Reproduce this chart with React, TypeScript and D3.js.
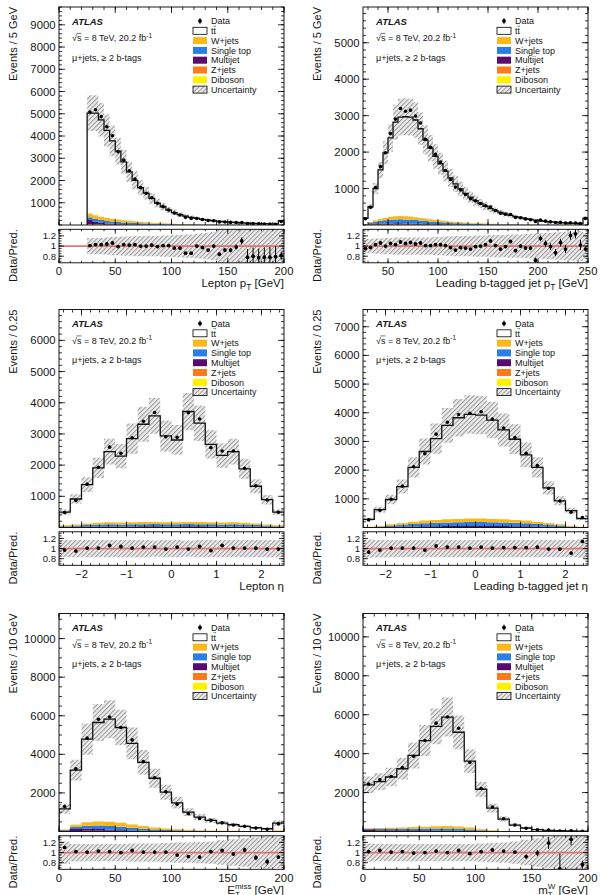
import React from "react";
import * as d3 from "d3";

// ---------- lepton pT, 5 GeV bins from 25 GeV (last bin includes overflow) ----------
const LEPPT_LO = 25;
const LEPPT_BIN = 5;
const LEPPT_PRED = [5030, 5030, 4730, 4250, 3780, 3320, 2840, 2390, 2010, 1680, 1430, 1200, 985, 820, 670, 560, 470, 400, 345, 295, 255, 220, 190, 165, 145, 127, 112, 98, 87, 77, 68, 60, 53, 47, 190];
const LEPPT_DATA = [5080, 5180, 4870, 4420, 4010, 3290, 2925, 2440, 2070, 1680, 1430, 1224, 975, 828, 677, 538, 451, 344, 297, 295, 247, 202, 190, 139, 133, 117, 110, 108, 68, 62, 52, 47, 41, 37, 154];
const LEPPT_RATIO = [1.01, 1.03, 1.03, 1.04, 1.06, 0.99, 1.03, 1.02, 1.03, 1.0, 1.0, 1.02, 0.99, 1.01, 1.01, 0.96, 0.96, 0.86, 0.86, 1.0, 0.97, 0.92, 1.0, 0.84, 0.92, 0.92, 0.98, 1.1, 0.78, 0.8, 0.77, 0.78, 0.78, 0.79, 0.81];
const LEPPT_RATIO_ERR = [0.005, 0.005, 0.005, 0.005, 0.006, 0.006, 0.007, 0.007, 0.008, 0.009, 0.01, 0.011, 0.012, 0.013, 0.015, 0.017, 0.018, 0.02, 0.022, 0.024, 0.027, 0.03, 0.032, 0.036, 0.04, 0.045, 0.05, 0.07, 0.16, 0.17, 0.18, 0.19, 0.2, 0.21, 0.08];
const LEPPT_UNC = [0.16, 0.16, 0.16, 0.17, 0.18, 0.18, 0.19, 0.19, 0.2, 0.2, 0.2, 0.2, 0.2, 0.21, 0.21, 0.22, 0.22, 0.23, 0.23, 0.24, 0.25, 0.26, 0.28, 0.32, 0.33, 0.33, 0.34, 0.34, 0.35, 0.35, 0.36, 0.36, 0.37, 0.37, 0.3];
const LEPPT_MJ = [180, 110, 70, 45, 30, 22, 16, 12, 9, 7, 5, 4, 3, 3, 2, 2, 1, 1, 1, 1, 1, 1, 0, 0, 0, 0, 0, 0, 0, 0, 0, 0, 0, 0, 2];
const LEPPT_STOP = [130, 130, 125, 115, 105, 95, 85, 75, 66, 57, 49, 42, 36, 31, 27, 23, 20, 17, 15, 13, 11, 10, 9, 8, 7, 6, 5, 5, 4, 4, 3, 3, 3, 2, 12];
const LEPPT_WJETS = [170, 160, 150, 140, 128, 115, 102, 90, 79, 69, 60, 52, 45, 39, 34, 29, 25, 22, 19, 16, 14, 12, 11, 9, 8, 7, 6, 6, 5, 4, 4, 4, 3, 3, 14];
const LEPPT_ZJETS = [30, 25, 21, 18, 15, 13, 11, 9, 8, 7, 6, 5, 4, 4, 3, 3, 2, 2, 2, 2, 1, 1, 1, 1, 1, 1, 1, 1, 1, 1, 1, 1, 1, 1, 3];
const LEPPT_VV = [10, 9, 8, 7, 6, 6, 5, 5, 4, 4, 3, 3, 3, 2, 2, 2, 2, 2, 1, 1, 1, 1, 1, 1, 1, 1, 1, 1, 1, 1, 1, 1, 1, 1, 2];

// ---------- leading b-tagged jet pT, 5 GeV bins from 25 GeV ----------
const BJPT_LO = 25;
const BJPT_BIN = 5;
const BJPT_PRED = [180, 500, 1000, 1510, 1980, 2390, 2820, 2960, 2970, 2960, 2880, 2640, 2330, 2110, 1880, 1680, 1480, 1290, 1130, 990, 870, 765, 670, 590, 515, 450, 395, 345, 300, 262, 230, 200, 175, 152, 133, 116, 101, 88, 77, 67, 58, 51, 44, 38, 190];
const BJPT_DATA = [171, 485, 1030, 1600, 1980, 2510, 2905, 3197, 3119, 3150, 2990, 2800, 2353, 2131, 1936, 1730, 1495, 1251, 1040, 960, 835, 719, 663, 590, 530, 495, 399, 324, 297, 286, 209, 200, 168, 146, 96, 133, 106, 87, 67, 72, 55, 62, 55, 39, 179];
const BJPT_RATIO = [0.95, 0.97, 1.03, 1.06, 1.0, 1.05, 1.03, 1.08, 1.05, 1.07, 1.04, 1.06, 1.01, 1.01, 1.03, 1.03, 1.01, 0.97, 0.92, 0.97, 0.96, 0.94, 0.99, 1.0, 1.03, 1.1, 1.01, 0.94, 0.99, 1.09, 0.91, 1.0, 0.96, 0.96, 0.72, 1.15, 1.05, 0.99, 0.87, 1.07, 0.94, 1.21, 1.24, 1.02, 0.94];
const BJPT_RATIO_ERR = [0.02, 0.01, 0.008, 0.007, 0.006, 0.006, 0.005, 0.005, 0.005, 0.005, 0.006, 0.006, 0.006, 0.007, 0.007, 0.008, 0.009, 0.01, 0.011, 0.012, 0.013, 0.014, 0.016, 0.017, 0.02, 0.021, 0.024, 0.026, 0.028, 0.03, 0.034, 0.036, 0.04, 0.044, 0.05, 0.055, 0.06, 0.065, 0.07, 0.075, 0.08, 0.085, 0.09, 0.1, 0.04];
const BJPT_UNC = [0.14, 0.14, 0.15, 0.15, 0.16, 0.16, 0.17, 0.17, 0.17, 0.17, 0.17, 0.17, 0.17, 0.17, 0.18, 0.18, 0.19, 0.19, 0.2, 0.2, 0.2, 0.2, 0.21, 0.21, 0.21, 0.22, 0.22, 0.22, 0.22, 0.23, 0.23, 0.23, 0.24, 0.24, 0.25, 0.25, 0.26, 0.26, 0.27, 0.27, 0.28, 0.28, 0.29, 0.3, 0.25];
const BJPT_MJ = [6, 14, 20, 24, 26, 27, 27, 26, 24, 22, 20, 17, 15, 13, 11, 10, 8, 7, 6, 5, 4, 4, 3, 3, 2, 2, 2, 1, 1, 1, 1, 1, 1, 1, 1, 0, 0, 0, 0, 0, 0, 0, 0, 0, 1];
const BJPT_STOP = [12, 35, 58, 76, 90, 101, 108, 111, 109, 105, 98, 89, 80, 71, 64, 57, 50, 44, 39, 34, 30, 26, 23, 20, 18, 16, 14, 12, 11, 10, 8, 7, 6, 5, 5, 5, 4, 4, 3, 3, 2, 2, 2, 2, 7];
const BJPT_WJETS = [9, 24, 40, 56, 68, 80, 86, 89, 88, 85, 81, 74, 67, 60, 55, 49, 44, 39, 34, 30, 27, 24, 21, 19, 17, 14, 13, 12, 10, 8, 7, 6, 6, 5, 4, 4, 4, 3, 3, 3, 3, 3, 2, 2, 6];
const BJPT_ZJETS = [2, 4, 8, 9, 10, 11, 12, 12, 12, 12, 11, 10, 9, 8, 7, 6, 6, 5, 4, 4, 3, 3, 3, 2, 2, 2, 1, 1, 1, 1, 1, 1, 1, 1, 1, 1, 1, 1, 1, 0, 0, 0, 0, 0, 1];
const BJPT_VV = [1, 3, 4, 5, 6, 6, 7, 7, 7, 6, 5, 5, 4, 3, 3, 3, 2, 2, 2, 2, 2, 1, 1, 1, 1, 1, 1, 1, 1, 1, 1, 0, 0, 0, 0, 0, 0, 0, 0, 0, 0, 0, 0, 0, 0];

// ---------- lepton eta, 0.25 bins from -2.5 ----------
const LEPETA_LO = -2.5;
const LEPETA_BIN = 0.25;
const LEPETA_PRED = [495, 914, 1376, 1914, 2430, 2290, 2850, 3310, 3580, 2935, 2806, 3720, 3344, 2667, 2312, 2430, 1880, 1323, 892, 495];
const LEPETA_DATA = [480, 868, 1390, 1933, 2576, 2382, 2879, 3409, 3687, 2906, 2890, 3683, 3478, 2560, 2451, 2454, 1899, 1336, 883, 490];
const LEPETA_RATIO = [0.97, 0.95, 1.01, 1.01, 1.06, 1.04, 1.01, 1.03, 1.03, 0.99, 1.03, 0.99, 1.04, 0.96, 1.06, 1.01, 1.01, 1.01, 0.99, 0.99];
const LEPETA_RATIO_ERR = [0.012, 0.01, 0.009, 0.008, 0.007, 0.007, 0.007, 0.006, 0.006, 0.007, 0.007, 0.006, 0.006, 0.007, 0.007, 0.007, 0.008, 0.009, 0.01, 0.012];
const LEPETA_UNC = [0.17, 0.17, 0.17, 0.17, 0.17, 0.17, 0.17, 0.17, 0.16, 0.17, 0.17, 0.16, 0.17, 0.17, 0.17, 0.17, 0.17, 0.17, 0.17, 0.17];
const LEPETA_MJ = [10, 15, 20, 22, 25, 24, 25, 26, 27, 25, 25, 27, 26, 25, 24, 25, 22, 20, 15, 10];
const LEPETA_STOP = [28, 40, 52, 60, 66, 64, 66, 70, 72, 66, 66, 72, 70, 66, 64, 66, 60, 52, 40, 28];
const LEPETA_WJETS = [26, 38, 49, 57, 63, 61, 63, 67, 68, 63, 63, 68, 67, 63, 61, 63, 57, 49, 38, 26];
const LEPETA_ZJETS = [4, 5, 6, 7, 7, 7, 7, 8, 8, 7, 7, 8, 8, 7, 7, 7, 7, 6, 5, 4];
const LEPETA_VV = [2, 2, 3, 4, 4, 4, 4, 4, 5, 4, 4, 5, 4, 4, 4, 4, 4, 3, 2, 2];

// ---------- leading b-tagged jet eta, 0.25 bins from -2.5 ----------
const BJETA_LO = -2.5;
const BJETA_BIN = 0.25;
const BJETA_PRED = [285, 620, 977, 1427, 2096, 2650, 3100, 3562, 3827, 3942, 3919, 3746, 3400, 3077, 2535, 2096, 1381, 931, 585, 308];
const BJETA_DATA = [265, 601, 987, 1441, 2117, 2571, 3255, 3669, 3942, 3981, 4037, 3783, 3468, 3139, 2586, 2159, 1367, 922, 532, 351];
const BJETA_RATIO = [0.93, 0.97, 1.01, 1.01, 1.01, 0.97, 1.05, 1.03, 1.03, 1.01, 1.03, 1.01, 1.02, 1.02, 1.02, 1.03, 0.99, 0.99, 0.91, 1.14];
const BJETA_RATIO_ERR = [0.03, 0.015, 0.01, 0.008, 0.007, 0.006, 0.006, 0.005, 0.005, 0.005, 0.005, 0.005, 0.005, 0.006, 0.006, 0.007, 0.008, 0.01, 0.015, 0.03];
const BJETA_UNC = [0.18, 0.17, 0.17, 0.17, 0.17, 0.17, 0.17, 0.17, 0.17, 0.17, 0.17, 0.17, 0.17, 0.17, 0.17, 0.17, 0.17, 0.17, 0.17, 0.18];
const BJETA_MJ = [3, 6, 11, 16, 20, 24, 26, 28, 30, 31, 31, 30, 28, 26, 24, 20, 16, 11, 6, 3];
const BJETA_STOP = [11, 27, 50, 72, 90, 108, 119, 128, 135, 140, 140, 135, 128, 119, 108, 90, 72, 50, 27, 11];
const BJETA_WJETS = [9, 23, 42, 61, 76, 91, 101, 108, 114, 118, 118, 114, 108, 101, 91, 76, 61, 42, 23, 9];
const BJETA_ZJETS = [1, 3, 5, 7, 9, 11, 12, 13, 13, 13, 13, 13, 13, 12, 11, 9, 7, 5, 3, 1];
const BJETA_VV = [1, 1, 2, 4, 5, 6, 7, 8, 8, 8, 8, 8, 8, 7, 6, 5, 4, 2, 1, 1];

// ---------- missing ET, 10 GeV bins from 0 ----------
const MET_LO = 0;
const MET_BIN = 10;
const MET_PRED = [1175, 3184, 4790, 5650, 5820, 5390, 4565, 3585, 2760, 2036, 1486, 1004, 746, 573, 435, 349, 263, 194, 143, 435];
const MET_DATA = [1293, 3248, 4838, 5820, 5936, 5390, 4748, 3621, 2788, 2056, 1412, 924, 679, 584, 452, 339, 276, 175, 117, 396];
const MET_RATIO = [1.1, 1.02, 1.01, 1.03, 1.02, 1.0, 1.04, 1.01, 1.01, 1.01, 0.95, 0.92, 0.91, 1.02, 1.04, 0.97, 1.05, 0.9, 0.82, 0.91];
const MET_RATIO_ERR = [0.01, 0.006, 0.005, 0.005, 0.005, 0.005, 0.005, 0.006, 0.007, 0.008, 0.01, 0.012, 0.015, 0.018, 0.03, 0.035, 0.045, 0.05, 0.06, 0.035];
const MET_UNC = [0.22, 0.17, 0.17, 0.17, 0.17, 0.17, 0.18, 0.18, 0.18, 0.19, 0.2, 0.2, 0.21, 0.22, 0.24, 0.26, 0.28, 0.3, 0.32, 0.3];
const MET_MJ = [45, 110, 110, 90, 60, 35, 20, 12, 7, 4, 3, 2, 1, 1, 1, 1, 0, 0, 0, 1];
const MET_STOP = [25, 100, 150, 170, 175, 165, 140, 112, 86, 67, 51, 39, 31, 24, 20, 16, 13, 10, 8, 22];
const MET_WJETS = [22, 115, 180, 215, 220, 210, 170, 135, 102, 78, 58, 43, 33, 26, 21, 16, 13, 10, 9, 23];
const MET_ZJETS = [6, 18, 25, 27, 27, 25, 19, 14, 10, 7, 5, 4, 3, 2, 2, 1, 1, 1, 1, 3];
const MET_VV = [2, 7, 15, 18, 18, 15, 11, 7, 5, 4, 3, 2, 2, 2, 1, 1, 1, 1, 0, 1];

// ---------- transverse W mass, 10 GeV bins from 0 ----------
const MTW_LO = 0;
const MTW_BIN = 10;
const MTW_PRED = [2391, 2562, 2800, 3225, 3906, 4672, 5404, 5880, 5098, 3617, 2170, 1200, 638, 332, 179, 94, 60, 43, 26, 20];
const MTW_DATA = [2439, 2664, 2828, 3290, 3867, 4672, 5566, 5880, 5302, 3545, 2213, 1260, 657, 335, 165, 93, 71, 29, 33, 15];
const MTW_RATIO = [1.02, 1.04, 1.01, 1.02, 0.99, 1.0, 1.03, 1.0, 1.04, 0.98, 1.02, 1.05, 1.03, 1.01, 0.92, 0.99, 1.19, 0.68, 1.26, 0.76];
const MTW_RATIO_ERR = [0.007, 0.007, 0.006, 0.006, 0.005, 0.005, 0.005, 0.005, 0.005, 0.006, 0.007, 0.01, 0.013, 0.02, 0.04, 0.06, 0.12, 0.3, 0.12, 0.08];
const MTW_UNC = [0.18, 0.17, 0.17, 0.17, 0.17, 0.17, 0.17, 0.17, 0.17, 0.17, 0.18, 0.19, 0.2, 0.22, 0.25, 0.28, 0.3, 0.32, 0.34, 0.35];
const MTW_MJ = [60, 55, 50, 45, 40, 35, 30, 25, 20, 15, 8, 4, 2, 1, 0, 0, 0, 0, 0, 0];
const MTW_STOP = [55, 60, 65, 72, 85, 95, 105, 110, 100, 77, 46, 23, 12, 6, 3, 2, 1, 1, 1, 0];
const MTW_WJETS = [42, 50, 58, 65, 83, 97, 112, 122, 118, 95, 58, 29, 14, 7, 4, 3, 2, 1, 1, 1];
const MTW_ZJETS = [9, 10, 11, 12, 14, 15, 15, 15, 14, 9, 6, 3, 1, 1, 1, 0, 0, 0, 0, 0];
const MTW_VV = [4, 5, 6, 6, 8, 8, 8, 8, 8, 4, 2, 1, 1, 0, 0, 0, 0, 0, 0, 0];

// axis tick labels
const PT_TICKS = [0, 50, 100, 150, 200];
const BJPT_TICKS = [50, 100, 150, 200, 250];
const ETA_TICKS = [-2, -1, 0, 1, 2];
const RATIO_TICKS = [0.8, 1, 1.2];

// ---------- layout / style ----------
const W = 606;
const H = 895;
const FONT = "'Liberation Sans', Arial, Helvetica, sans-serif";
const INK = "#151515";
const COL_X = [59, 363];
const ROW_Y = [7, 309.5, 613.5];
const FRAME_W = 225;
const MAIN_H = 218;
const PAD_GAP = 4.3;
const RATIO_H = 33.5;
const R_DOMAIN: [number, number] = [0.67, 1.33];

const COLORS: Record<string, string> = {
  wjets: "#f9b81b",
  stop: "#2a7fe6",
  multijet: "#5a0c6c",
  zjets: "#fc7b1c",
  diboson: "#fff000",
};
// bottom of the stack first
const STACK_ORDER = ["diboson", "zjets", "multijet", "stop", "wjets"];

type Dist = {
  lo: number; binW: number;
  pred: number[]; data: number[]; ratio: number[]; ratioErr: number[]; unc: number[];
  multijet: number[]; stop: number[]; wjets: number[]; zjets: number[]; diboson: number[];
  xDomain: [number, number]; xLabels: number[]; xMinor: number;
  yMax: number; yStep: number; yMinor: number;
  yTitle: string; xTitle: string;
};

const DISTS: Dist[] = [
  { lo: LEPPT_LO, binW: LEPPT_BIN, pred: LEPPT_PRED, data: LEPPT_DATA, ratio: LEPPT_RATIO, ratioErr: LEPPT_RATIO_ERR, unc: LEPPT_UNC,
    multijet: LEPPT_MJ, stop: LEPPT_STOP, wjets: LEPPT_WJETS, zjets: LEPPT_ZJETS, diboson: LEPPT_VV,
    xDomain: [0, 200], xLabels: PT_TICKS, xMinor: 10, yMax: 9800, yStep: 1000, yMinor: 200, yTitle: "Events / 5 GeV", xTitle: "lepPt" },
  { lo: BJPT_LO, binW: BJPT_BIN, pred: BJPT_PRED, data: BJPT_DATA, ratio: BJPT_RATIO, ratioErr: BJPT_RATIO_ERR, unc: BJPT_UNC,
    multijet: BJPT_MJ, stop: BJPT_STOP, wjets: BJPT_WJETS, zjets: BJPT_ZJETS, diboson: BJPT_VV,
    xDomain: [25, 250], xLabels: BJPT_TICKS, xMinor: 10, yMax: 5980, yStep: 1000, yMinor: 200, yTitle: "Events / 5 GeV", xTitle: "bjPt" },
  { lo: LEPETA_LO, binW: LEPETA_BIN, pred: LEPETA_PRED, data: LEPETA_DATA, ratio: LEPETA_RATIO, ratioErr: LEPETA_RATIO_ERR, unc: LEPETA_UNC,
    multijet: LEPETA_MJ, stop: LEPETA_STOP, wjets: LEPETA_WJETS, zjets: LEPETA_ZJETS, diboson: LEPETA_VV,
    xDomain: [-2.5, 2.5], xLabels: ETA_TICKS, xMinor: 0.2, yMax: 6990, yStep: 1000, yMinor: 200, yTitle: "Events / 0.25", xTitle: "lepEta" },
  { lo: BJETA_LO, binW: BJETA_BIN, pred: BJETA_PRED, data: BJETA_DATA, ratio: BJETA_RATIO, ratioErr: BJETA_RATIO_ERR, unc: BJETA_UNC,
    multijet: BJETA_MJ, stop: BJETA_STOP, wjets: BJETA_WJETS, zjets: BJETA_ZJETS, diboson: BJETA_VV,
    xDomain: [-2.5, 2.5], xLabels: ETA_TICKS, xMinor: 0.2, yMax: 7600, yStep: 1000, yMinor: 200, yTitle: "Events / 0.25", xTitle: "bjEta" },
  { lo: MET_LO, binW: MET_BIN, pred: MET_PRED, data: MET_DATA, ratio: MET_RATIO, ratioErr: MET_RATIO_ERR, unc: MET_UNC,
    multijet: MET_MJ, stop: MET_STOP, wjets: MET_WJETS, zjets: MET_ZJETS, diboson: MET_VV,
    xDomain: [0, 200], xLabels: PT_TICKS, xMinor: 10, yMax: 11300, yStep: 2000, yMinor: 500, yTitle: "Events / 10 GeV", xTitle: "met" },
  { lo: MTW_LO, binW: MTW_BIN, pred: MTW_PRED, data: MTW_DATA, ratio: MTW_RATIO, ratioErr: MTW_RATIO_ERR, unc: MTW_UNC,
    multijet: MTW_MJ, stop: MTW_STOP, wjets: MTW_WJETS, zjets: MTW_ZJETS, diboson: MTW_VV,
    xDomain: [0, 200], xLabels: PT_TICKS, xMinor: 10, yMax: 11200, yStep: 2000, yMinor: 500, yTitle: "Events / 10 GeV", xTitle: "mtw" },
];

const fmt = (v: number) => `${v}`.replace("-", "\u2212");
const minorVals = (lo: number, hi: number, step: number) =>
  d3.range(Math.ceil(lo / step - 1e-9), Math.floor(hi / step + 1e-9) + 1).map(k => k * step);

function XTitle({ kind, x, y }: { kind: string; x: number; y: number }) {
  const base = { x, y, textAnchor: "end" as const, fontSize: 11.5, fill: INK };
  switch (kind) {
    case "lepPt":
      return <text {...base}>Lepton p<tspan dy={3} fontSize={8.5}>T</tspan><tspan dy={-3}>{" [GeV]"}</tspan></text>;
    case "bjPt":
      return <text {...base}>Leading b-tagged jet p<tspan dy={3} fontSize={8.5}>T</tspan><tspan dy={-3}>{" [GeV]"}</tspan></text>;
    case "lepEta":
      return <text {...base}>Lepton η</text>;
    case "bjEta":
      return <text {...base}>Leading b-tagged jet η</text>;
    case "met":
      return (
        <text {...base}>E<tspan dy={-4.5} fontSize={8}>miss</tspan><tspan dx={-16.4} dy={7.5} fontSize={8}>T</tspan>
          <tspan dx={11.5} dy={-3}>{" [GeV]"}</tspan></text>
      );
    default:
      return (
        <text {...base}>m<tspan dy={-4.5} fontSize={8}>W</tspan><tspan dx={-7.6} dy={7.5} fontSize={8}>T</tspan>
          <tspan dx={2.7} dy={-3}>{" [GeV]"}</tspan></text>
      );
  }
}

function Legend({ x0, y0 }: { x0: number; y0: number }) {
  const bx = x0 + 134;
  const tx = x0 + 152;
  const rowY = (i: number) => y0 + 14 + i * 9.8;
  const boxes = [
    { fill: COLORS.wjets, label: "W+jets" },
    { fill: COLORS.stop, label: "Single top" },
    { fill: COLORS.multijet, label: "Multijet" },
    { fill: COLORS.zjets, label: "Z+jets" },
    { fill: COLORS.diboson, label: "Diboson" },
  ];
  return (
    <g fontSize={9} fill={INK}>
      <circle cx={bx + 7} cy={rowY(0)} r={1.9} fill="#000" />
      <line x1={bx + 7} x2={bx + 7} y1={rowY(0) - 3} y2={rowY(0) + 3} stroke="#000" strokeWidth={0.8} />
      <text x={tx} y={rowY(0) + 3.2}>Data</text>
      <rect x={bx} y={rowY(1) - 3.5} width={14} height={7} fill="#fff" stroke="#000" strokeWidth={0.8} />
      <text x={tx} y={rowY(1) + 3.2}>tt</text>
      {/* bar over the second t */}
      <line x1={tx + 2.6} x2={tx + 5.2} y1={rowY(1) - 4.6} y2={rowY(1) - 4.6} stroke={INK} strokeWidth={0.6} />
      {boxes.map((b, i) => (
        <g key={b.label}>
          <rect x={bx} y={rowY(i + 2) - 3.5} width={14} height={7} fill={b.fill} />
          <text x={tx} y={rowY(i + 2) + 3.2}>{b.label}</text>
        </g>
      ))}
      <rect x={bx} y={rowY(7) - 3.5} width={14} height={7} fill="url(#unc-hatch)" stroke="#000" strokeWidth={0.8} />
      <text x={tx} y={rowY(7) + 3.2}>Uncertainty</text>
    </g>
  );
}

function Labels({ x0, y0 }: { x0: number; y0: number }) {
  const lx = x0 + 13;
  const by = y0 + 34;
  return (
    <g fill={INK}>
      <text x={lx} y={y0 + 17.5} fontSize={9.5} fontWeight="bold" fontStyle="italic">ATLAS</text>
      <text x={lx} y={by} fontSize={9}>
        {"√s = 8 TeV, 20.2 fb"}
        <tspan dy={-3.5} fontSize={6.5}>-1</tspan>
      </text>
      {/* root bar over s */}
      <line x1={lx + 4.6} x2={lx + 9.4} y1={by - 7.6} y2={by - 7.6} stroke={INK} strokeWidth={0.6} />
      <text x={lx} y={y0 + 53.5} fontSize={9}>μ+jets, ≥ 2 b-tags</text>
    </g>
  );
}

function Panel({ d, x0, y0, id }: { d: Dist; x0: number; y0: number; id: number }) {
  const x = d3.scaleLinear().domain(d.xDomain).range([x0, x0 + FRAME_W]);
  const y = d3.scaleLinear().domain([0, d.yMax]).range([y0 + MAIN_H, y0]);
  const rTop = y0 + MAIN_H + PAD_GAP;
  const rBot = rTop + RATIO_H;
  const r = d3.scaleLinear().domain(R_DOMAIN).range([rBot, rTop]);
  const xR = x0 + FRAME_W;

  const n = d.pred.length;
  const edge = (i: number) => d.lo + i * d.binW;
  const mid = (i: number) => d.lo + (i + 0.5) * d.binW;
  const ext = (a: [number, number][]) => [...a, a[a.length - 1]];

  const stepArea = (s: d3.ScaleLinear<number, number>) =>
    d3.area<[number, number]>()
      .curve(d3.curveStepAfter)
      .x((_, i) => x(edge(i)))
      .y0(p => s(p[0]))
      .y1(p => s(p[1]));
  const mainArea = stepArea(y);
  const ratioArea = stepArea(r);

  const rows = d3.range(n).map(i => ({
    diboson: d.diboson[i], zjets: d.zjets[i], multijet: d.multijet[i], stop: d.stop[i], wjets: d.wjets[i],
  }));
  const series = d3.stack<any>().keys(STACK_ORDER)(rows);

  const ttPath = mainArea(ext(d.pred.map(v => [0, v] as [number, number]))) || "";
  const uncPath = mainArea(ext(d.pred.map((v, i) => [v * (1 - d.unc[i]), v * (1 + d.unc[i])] as [number, number]))) || "";
  const ratioBand = ratioArea(ext(d.unc.map(u => [1 - u, 1 + u] as [number, number]))) || "";

  const outlinePts: [number, number][] = [[d.lo, 0], ...d.pred.map((v, i) => [edge(i), v] as [number, number]), [edge(n), d.pred[n - 1]]];
  const outline = d3.line<[number, number]>().curve(d3.curveStepAfter).x(p => x(p[0])).y(p => y(p[1]))(outlinePts) || "";

  const yMajor = d3.range(d.yStep, d.yMax, d.yStep);
  const yMinor = minorVals(0, d.yMax, d.yMinor);
  const xMinor = minorVals(d.xDomain[0], d.xDomain[1], d.xMinor);
  const rMinor = minorVals(0.7, 1.3, 0.05);

  const tick = { stroke: "#000", strokeWidth: 0.8 };

  return (
    <g>
      <clipPath id={`main-${id}`}><rect x={x0} y={y0} width={FRAME_W} height={MAIN_H} /></clipPath>
      <clipPath id={`ratio-${id}`}><rect x={x0} y={rTop} width={FRAME_W} height={RATIO_H} /></clipPath>

      {/* main pad */}
      <g clipPath={`url(#main-${id})`}>
        <path d={ttPath} fill="#fff" />
        {series.map(s => (
          <path key={s.key} d={mainArea(ext(s.map(p => [p[0], p[1]] as [number, number]))) || ""} fill={COLORS[s.key]} />
        ))}
        <path d={uncPath} fill="url(#unc-hatch)" />
        <path d={outline} fill="none" stroke="#111" strokeWidth={1.3} />
        {d.data.map((v, i) => <circle key={i} cx={x(mid(i))} cy={y(v)} r={1.8} fill="#000" />)}
      </g>

      {/* ratio pad */}
      <g clipPath={`url(#ratio-${id})`}>
        <path d={ratioBand} fill="url(#unc-hatch)" />
        <line x1={x0} x2={xR} y1={r(1)} y2={r(1)} stroke="#e46868" strokeWidth={1.8} opacity={0.9} />
        {d.ratio.map((v, i) => (
          <g key={i}>
            <line x1={x(mid(i))} x2={x(mid(i))} y1={r(v - d.ratioErr[i])} y2={r(v + d.ratioErr[i])} stroke="#000" strokeWidth={1} />
            <circle cx={x(mid(i))} cy={r(v)} r={1.9} fill="#000" />
          </g>
        ))}
      </g>

      {/* ticks: main pad */}
      {yMinor.map(v => (
        <g key={`ym${v}`}>
          <line x1={x0} x2={x0 + 3} y1={y(v)} y2={y(v)} {...tick} />
          <line x1={xR} x2={xR - 3} y1={y(v)} y2={y(v)} {...tick} />
        </g>
      ))}
      {yMajor.map(v => (
        <g key={`yM${v}`}>
          <line x1={x0} x2={x0 + 6} y1={y(v)} y2={y(v)} {...tick} />
          <line x1={xR} x2={xR - 6} y1={y(v)} y2={y(v)} {...tick} />
          <text x={x0 - 3.5} y={y(v) + 4} textAnchor="end" fontSize={11.3} fill={INK}>{v}</text>
        </g>
      ))}
      {xMinor.map(v => (
        <g key={`xm${v}`}>
          <line x1={x(v)} x2={x(v)} y1={y0 + MAIN_H} y2={y0 + MAIN_H - 3} {...tick} />
          <line x1={x(v)} x2={x(v)} y1={y0} y2={y0 + 3} {...tick} />
          <line x1={x(v)} x2={x(v)} y1={rBot} y2={rBot - 2} {...tick} />
          <line x1={x(v)} x2={x(v)} y1={rTop} y2={rTop + 2} {...tick} />
        </g>
      ))}
      {d.xLabels.map(v => (
        <g key={`xM${v}`}>
          <line x1={x(v)} x2={x(v)} y1={y0 + MAIN_H} y2={y0 + MAIN_H - 6} {...tick} />
          <line x1={x(v)} x2={x(v)} y1={y0} y2={y0 + 6} {...tick} />
          <line x1={x(v)} x2={x(v)} y1={rBot} y2={rBot - 4.5} {...tick} />
          <line x1={x(v)} x2={x(v)} y1={rTop} y2={rTop + 4.5} {...tick} />
          <text x={x(v)} y={rBot + 12.5} textAnchor="middle" fontSize={11.3} fill={INK}>{fmt(v)}</text>
        </g>
      ))}

      {/* ticks: ratio pad */}
      {rMinor.map(v => (
        <g key={`rm${v}`}>
          <line x1={x0} x2={x0 + 2.5} y1={r(v)} y2={r(v)} {...tick} />
          <line x1={xR} x2={xR - 2.5} y1={r(v)} y2={r(v)} {...tick} />
        </g>
      ))}
      {RATIO_TICKS.map(v => (
        <g key={`rM${v}`}>
          <line x1={x0} x2={x0 + 5} y1={r(v)} y2={r(v)} {...tick} />
          <line x1={xR} x2={xR - 5} y1={r(v)} y2={r(v)} {...tick} />
          <text x={x0 - 3} y={r(v) + 3.4} textAnchor="end" fontSize={9.6} fill={INK}>{fmt(v)}</text>
        </g>
      ))}

      {/* frames */}
      <rect x={x0} y={y0} width={FRAME_W} height={MAIN_H} fill="none" stroke="#000" strokeWidth={0.9} />
      <rect x={x0} y={rTop} width={FRAME_W} height={RATIO_H} fill="none" stroke="#000" strokeWidth={0.9} />

      {/* axis titles */}
      <text transform={`translate(${x0 - 42},${y0}) rotate(-90)`} textAnchor="end" fontSize={11} fill={INK}>{d.yTitle}</text>
      <text transform={`translate(${x0 - 42},${rTop}) rotate(-90)`} textAnchor="end" fontSize={11} fill={INK}>Data/Pred.</text>
      <XTitle kind={d.xTitle} x={xR} y={rBot + 24.5} />

      <Labels x0={x0} y0={y0} />
      <Legend x0={x0} y0={y0} />
    </g>
  );
}

export default function App() {
  return (
    <svg
      width={W}
      height={H}
      viewBox={`0 0 ${W} ${H}`}
      fontFamily={FONT}
      style={{ position: "absolute", left: 0, top: 0, background: "#fff", display: "block" }}
    >
      <defs>
        <pattern id="unc-hatch" patternUnits="userSpaceOnUse" width={3.2} height={3.2} patternTransform="rotate(45)">
          <rect width={3.2} height={3.2} fill="#ececec" />
          <line x1={0.5} y1={0} x2={0.5} y2={3.2} stroke="#8e8e8e" strokeWidth={0.9} />
        </pattern>
      </defs>
      <rect width={W} height={H} fill="#fff" />
      {DISTS.map((d, k) => (
        <Panel key={k} id={k} d={d} x0={COL_X[k % 2]} y0={ROW_Y[Math.floor(k / 2)]} />
      ))}
    </svg>
  );
}
